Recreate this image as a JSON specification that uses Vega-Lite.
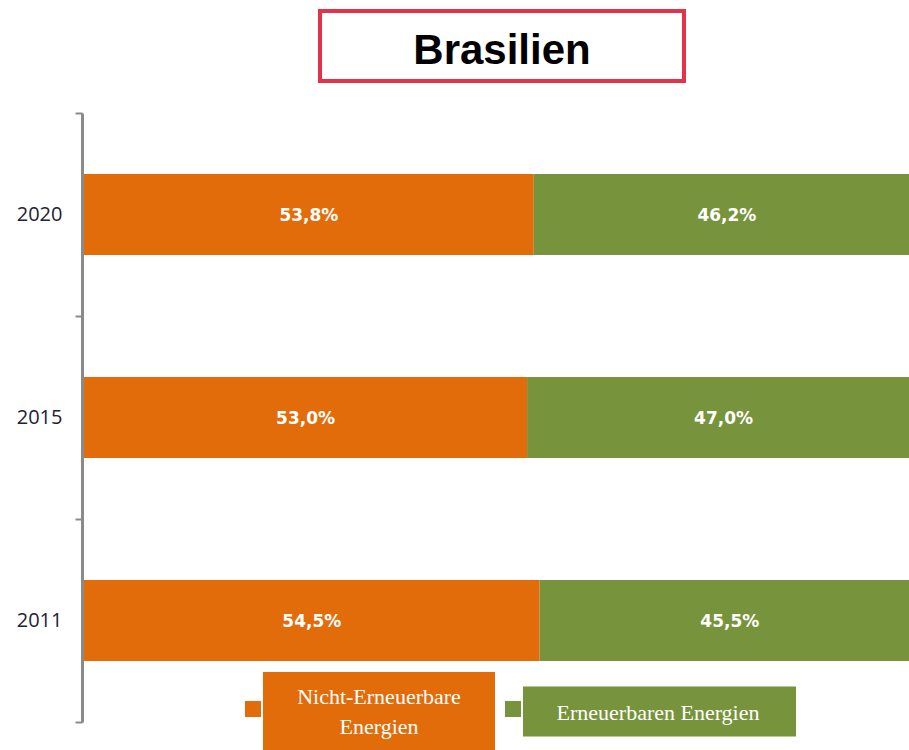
{
  "$schema": "https://vega.github.io/schema/vega-lite/v6.json",
  "autosize": {"type": "pad"},
  "padding": {"left": 16, "top": 9, "right": 0, "bottom": 0},
  "background": "white",
  "config": {"view": {"stroke": null}},
  "spacing": 32,
  "center": true,
  "bounds": "flush",
  "resolve": {"scale": {"color": "independent"}, "legend": {"color": "independent"}},
  "vconcat": [
    {
      "width": 364,
      "height": 70,
      "view": {"stroke": "#E3334B", "strokeWidth": 4, "fill": "white"},
      "data": {"values": [{"title": "Brasilien"}]},
      "mark": {"type": "text", "font": "Liberation Sans", "fontWeight": "bold", "fontSize": 42, "color": "black", "baseline": "middle", "align": "center", "dy": 5},
      "encoding": {"text": {"field": "title", "type": "nominal"}}
    },
    {
      "width": 836,
      "height": 609,
      "data": {
        "values": [
          {"year": "2020", "cat": "Nicht-Erneuerbare Energien", "value": 53.8},
          {"year": "2020", "cat": "Erneuerbaren Energien", "value": 46.2},
          {"year": "2015", "cat": "Nicht-Erneuerbare Energien", "value": 53.0},
          {"year": "2015", "cat": "Erneuerbaren Energien", "value": 47.0},
          {"year": "2011", "cat": "Nicht-Erneuerbare Energien", "value": 54.5},
          {"year": "2011", "cat": "Erneuerbaren Energien", "value": 45.5}
        ]
      },
      "transform": [
        {"stack": "value", "groupby": ["year"], "sort": [{"field": "cat", "order": "descending"}], "as": ["x0", "x1"], "offset": "zero"},
        {"calculate": "(datum.x0 + datum.x1) / 2", "as": "xm"},
        {"calculate": "replace(format(datum.value, '.1f'), '.', ',') + '%'", "as": "lbl"}
      ],
      "encoding": {
        "y": {
          "field": "year",
          "type": "nominal",
          "sort": ["2020", "2015", "2011"],
          "scale": {"paddingInner": 0, "paddingOuter": 0},
          "axis": {
            "title": null,
            "domainColor": "#8a8a8a",
            "domainWidth": 3,
            "tickColor": "#8a8a8a",
            "tickWidth": 2,
            "tickSize": 7,
            "tickBand": "extent",
            "labelFont": "Open Sans",
            "labelFontSize": 20,
            "labelColor": "#222233",
            "labelPadding": 13,
            "offset": 2,
            "grid": false
          }
        }
      },
      "layer": [
        {
          "mark": {"type": "bar", "height": {"band": 0.4}},
          "encoding": {
            "x": {"field": "x0", "type": "quantitative", "scale": {"domain": [0, 100], "nice": false, "zero": true}, "axis": null},
            "x2": {"field": "x1"},
            "color": {
              "field": "cat",
              "type": "nominal",
              "scale": {"domain": ["Nicht-Erneuerbare Energien", "Erneuerbaren Energien"], "range": ["#E36C0A", "#77933C"]},
              "legend": {
                "orient": "none",
                "legendX": 158,
                "legendY": 585,
                "direction": "horizontal",
                "title": null,
                "symbolSize": 256,
                "symbolStrokeWidth": 0,
                "columnPadding": 7,
                "labelFont": "Liberation Serif",
                "labelFontSize": 22,
                "labelColor": "white",
                "labelLimit": 0,
                "labelAlign": "center",
                "labelBaseline": "middle",
                "labelExpr": "datum.label == 'Nicht-Erneuerbare Energien' ? ['Nicht-Erneuerbare', 'Energien'] : datum.label",
                "encode": {
                  "symbols": {
                    "update": {
                      "shape": {"signal": "datum.value == 'Nicht-Erneuerbare Energien' ? 'M-1,-1h2v2h-2zM1.25,-4.625h29v10h-29z' : 'M0,-4.625M0,5.375M-1,-1h2v2h-2zM1.25,-2.8125h34.125v6.25h-34.125z'"}
                    }
                  },
                  "labels": {
                    "update": {
                      "x": {"signal": "datum.value == 'Nicht-Erneuerbare Energien' ? 137 : 156"},
                      "dy": {"signal": "datum.value == 'Nicht-Erneuerbare Energien' ? -12 : 4"},
                      "lineHeight": {"value": 30}
                    }
                  }
                }
              }
            }
          }
        },
        {
          "mark": {"type": "text", "font": "DejaVu Sans", "fontWeight": "bold", "fontSize": 17, "color": "white", "baseline": "middle", "align": "center", "dy": 1},
          "encoding": {
            "x": {"field": "xm", "type": "quantitative"},
            "text": {"field": "lbl", "type": "nominal"}
          }
        }
      ]
    }
  ]
}
